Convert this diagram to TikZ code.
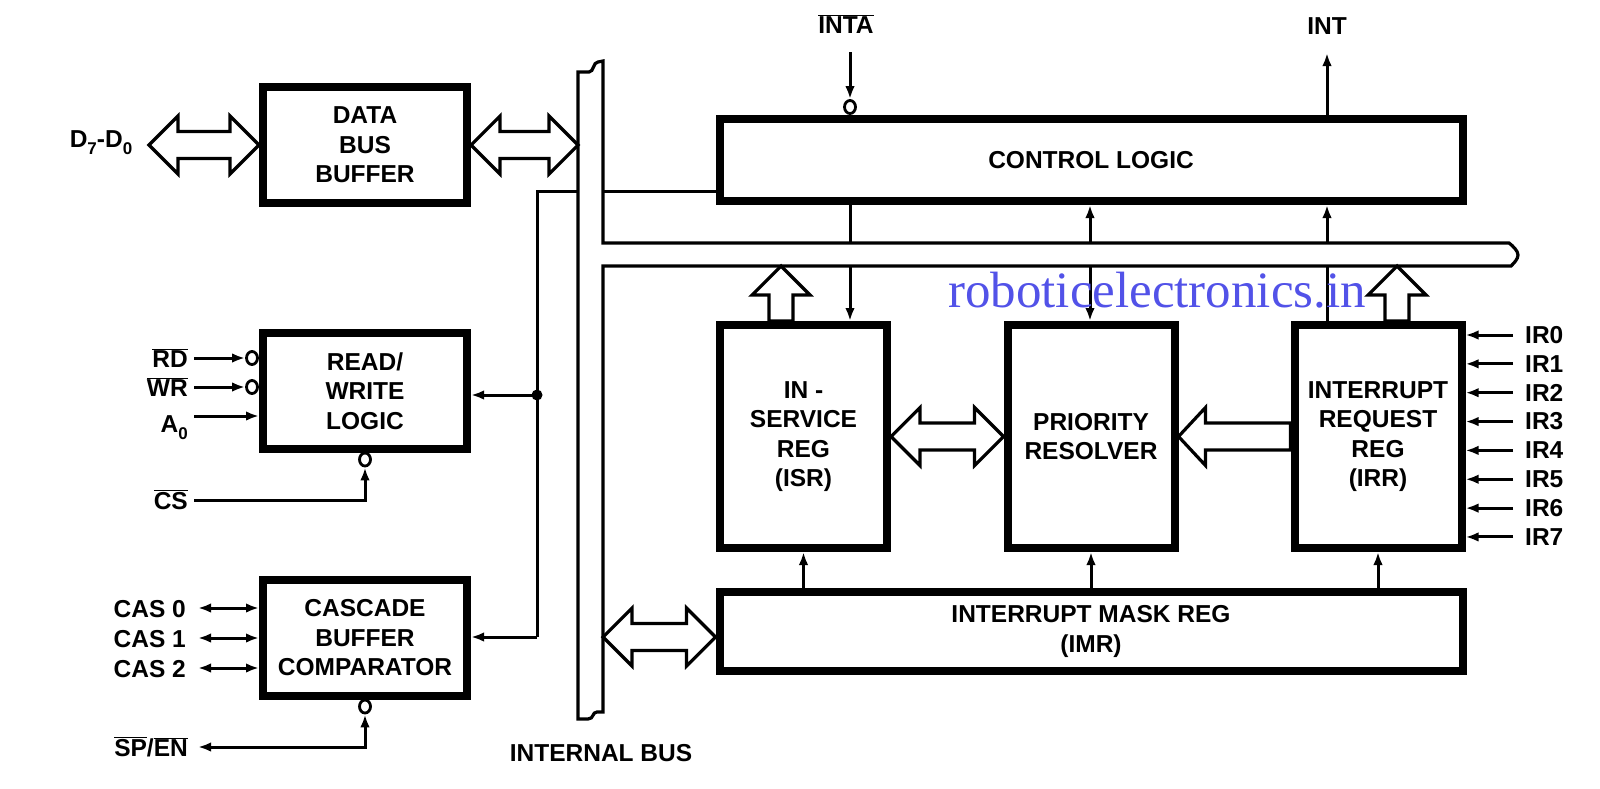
\documentclass[tikz,border=0pt]{standalone}
\usepackage{fontspec}
\setmainfont{Liberation Sans}
\newfontfamily\wmfont{Liberation Serif}
\usepackage{tikz}
\usetikzlibrary{arrows.meta,calc,positioning,shapes.geometric}
\definecolor{wmBlue}{RGB}{82,82,232}
\newcommand{\blkfont}{\fontsize{24.5}{29.5}\selectfont\bfseries}
\newcommand{\ovl}[1]{$\overline{\mbox{#1}}$}
\newcommand{\lowidx}[1]{\raisebox{-0.32em}{\fontsize{17}{17}\selectfont #1}}
\tikzstyle{box_style}=[draw, line width=8pt, inner sep=0pt, align=center, font=\blkfont]
\tikzstyle{left_box}=[box_style, minimum width=204pt, minimum height=116pt]
\tikzstyle{reg_box}=[box_style, minimum width=167pt, minimum height=223pt]
\tikzstyle{wide_box}=[box_style, minimum width=743pt, minimum height=82pt]
\tikzstyle{myarrow}=[->, >={Latex[length=13pt,width=9.5pt]}, line width=3pt]
\tikzstyle{line}=[line width=3pt]
\tikzstyle{hollow}=[line width=3.2pt, fill=white, line join=miter]
\tikzstyle{bus}=[line width=3.2pt, line join=miter]
\tikzstyle{bubble}=[ellipse, draw, line width=2.8pt, fill=white, minimum width=11pt, minimum height=13pt, inner sep=0pt]
\tikzstyle{pin_lbl}=[inner sep=3pt, font=\blkfont]
\tikzstyle{wm}=[inner sep=0pt, text=wmBlue, font={\wmfont\fontsize{51}{60}\selectfont}]
% hollow bus arrows
\newcommand{\hollowbi}[2]{%
	\draw[hollow] let \p1=(#1), \p2=(#2) in
		(\x1,\y1) -- (\x1+29pt,\y1+29pt) -- (\x1+29pt,\y1+13.5pt) -- (\x2-29pt,\y1+13.5pt)
		-- (\x2-29pt,\y1+29pt) -- (\x2,\y1) -- (\x2-29pt,\y1-29pt) -- (\x2-29pt,\y1-13.5pt)
		-- (\x1+29pt,\y1-13.5pt) -- (\x1+29pt,\y1-29pt) -- cycle;}
\newcommand{\hollowleft}[2]{%
	\draw[hollow] let \p1=(#1), \p2=(#2) in
		(\x1,\y1) -- (\x1+27pt,\y1+29pt) -- (\x1+27pt,\y1+13.5pt) -- (\x2,\y1+13.5pt)
		-- (\x2,\y1-13.5pt) -- (\x1+27pt,\y1-13.5pt) -- (\x1+27pt,\y1-29pt) -- cycle;}
\newcommand{\hollowup}[2]{%
	\draw[hollow] let \p1=(#1), \p2=(#2) in
		(\x1,\y1) -- (\x1+29pt,\y1-29pt) -- (\x1+12pt,\y1-29pt) -- (\x1+12pt,\y2)
		-- (\x1-12pt,\y2) -- (\x1-12pt,\y1-29pt) -- (\x1-29pt,\y1-29pt) -- cycle;}

\begin{document}
\begin{tikzpicture}[x=1pt, y=-1pt]
	\useasboundingbox (0,0) rectangle (1600,788);

	% internal bus (vertical + horizontal branch)
	\draw[bus] (578,719) -- (578,72) -- (589,72) .. controls (594,72) and (593,62) .. (598,62) -- (603,61)
		-- (603,243) -- (1509,243) .. controls (1513,246) and (1518,251) .. (1518,255)
		.. controls (1518,259) and (1514,263) .. (1511,266) -- (603,266) -- (603,712)
		-- (597,712) .. controls (592,712) and (594,719) .. (588,719) -- cycle;
	\coordinate (busW) at (578,0);
	\coordinate (busE) at (603,0);
	\coordinate (hbusT) at (0,243);
	\coordinate (hbusB) at (0,266);
	\node[pin_lbl] (lblBus) at (601,753) {INTERNAL BUS};

	% left column
	\node[left_box] (dbb) at (365,145) {DATA\\BUS\\BUFFER};
	\node[left_box] (rw) at (365,391) {READ/\\WRITE\\LOGIC};
	\node[left_box] (cas) at (365,638) {CASCADE\\BUFFER\\COMPARATOR};

	\node[pin_lbl, anchor=base] (lblD) at (101,147) {D\lowidx{7}-D\lowidx{0}};
	\coordinate (pD) at (149,145);
	\hollowbi{pD}{pD -| dbb.west}
	\hollowbi{dbb.east}{busW |- dbb.east}

	\node[bubble] (bRD) at (252,358) {};
	\node[bubble] (bWR) at (252,387) {};
	\node[pin_lbl, anchor=base east] (lblRD) at (191,367) {\ovl{RD}};
	\node[pin_lbl, anchor=base east] (lblWR) at (191,396) {\ovl{WR}};
	\node[pin_lbl, anchor=base east] (lblA) at (191,432) {A\lowidx{0}};
	\coordinate (pRD) at (194,358);
	\coordinate (pWR) at (194,387);
	\coordinate (pA) at (194,416);
	\draw[myarrow] (pRD) -- (bRD);
	\draw[myarrow] (pWR) -- (bWR);
	\draw[myarrow] (pA) -- (pA -| rw.west);

	\node[bubble] (bCS) at (365,459.5) {};
	\node[pin_lbl, anchor=base east] (lblCS) at (191,509) {\ovl{CS}};
	\coordinate (pCS) at (194,500);
	\draw[myarrow] (pCS) -| (bCS.south);

	\foreach \i/\y in {0/608,1/638,2/668} {
		\node[pin_lbl, anchor=base east] (lblCAS\i) at (189,\y+9) {CAS \i};
		\coordinate (pCAS\i) at (198,\y);
		\draw[myarrow, <->] (pCAS\i) -- (pCAS\i -| cas.west);
	}

	\node[bubble] (bSPEN) at (365,706.5) {};
	\node[pin_lbl, anchor=base east] (lblSPEN) at (191,756) {\ovl{SP}/\ovl{EN}};
	\coordinate (pSPEN) at (198,747);
	\draw[myarrow, <->] (pSPEN) -| (bSPEN.south);

	% taps from the bus to the left blocks
	\coordinate (tap) at (537,191);
	\coordinate (dotRW) at (537,395);
	\coordinate (tapCas) at (537,637);
	\draw[line] (busW |- tap) -- (tap) -- (tapCas);
	\draw[myarrow] (dotRW) -- (rw.east |- dotRW);
	\draw[myarrow] (tapCas) -- (cas.east |- tapCas);
	\fill (dotRW) circle (5.5pt);

	% right part
	\node[wide_box] (ctrl) at (1091,160) {CONTROL LOGIC};
	\node[reg_box] (isr) at (803.5,436.5) {IN -\\SERVICE\\REG\\(ISR)};
	\node[reg_box] (pr) at (1091,436.5) {PRIORITY\\RESOLVER};
	\node[reg_box] (irr) at (1378,436.5) {INTERRUPT\\REQUEST\\REG\\(IRR)};
	\node[wide_box, minimum height=79pt] (imr) at (1091,631.5) {INTERRUPT MASK REG\\(IMR)};

	\draw[line] (busE |- tap) -- (ctrl.west |- tap);

	\node[pin_lbl] (lblINTA) at (846,24) {\ovl{INTA}};
	\node[bubble] (bINTA) at (850,107) {};
	\coordinate (intaIn) at (850,52);
	\draw[myarrow] (intaIn) -- (bINTA.north);

	\node[pin_lbl] (lblINT) at (1327,26) {INT};
	\coordinate (intOut) at (1327,53);
	\draw[myarrow] (ctrl.north -| intOut) -- (intOut);

	\coordinate (colA) at (850,0);
	\coordinate (colB) at (1090,0);
	\coordinate (colC) at (1327,0);
	\draw[line] (ctrl.south -| colA) -- (hbusT -| colA);
	\draw[myarrow] (hbusB -| colA) -- (isr.north -| colA);
	\draw[myarrow] (hbusT -| colB) -- (ctrl.south -| colB);
	\draw[myarrow] (hbusB -| colB) -- (pr.north -| colB);
	\draw[myarrow] (hbusT -| colC) -- (ctrl.south -| colC);
	\draw[line] (irr.north -| colC) -- (hbusB -| colC);

	\coordinate (upISR) at (781,266);
	\coordinate (upIRR) at (1397,266);
	\hollowup{upISR}{isr.north}
	\hollowup{upIRR}{irr.north}

	\hollowbi{isr.east}{pr.west}
	\hollowleft{pr.east}{irr.west}
	\coordinate (pIMR) at (603,637);
	\hollowbi{pIMR}{pIMR -| imr.west}

	\foreach \c in {isr,pr,irr}
		\draw[myarrow] (imr.north -| \c) -- (\c.south);

	\foreach \i in {0,...,7} {
		\node[pin_lbl, anchor=west, inner xsep=12pt] (lblIR\i) at (1513,335+\i*28.85) {IR\i};
		\draw[myarrow] (lblIR\i.west) -- (irr.east |- lblIR\i.west);
	}

	\node[wm, anchor=base west] (wmark) at (948,307) {roboticelectronics.in};
\end{tikzpicture}
\end{document}
